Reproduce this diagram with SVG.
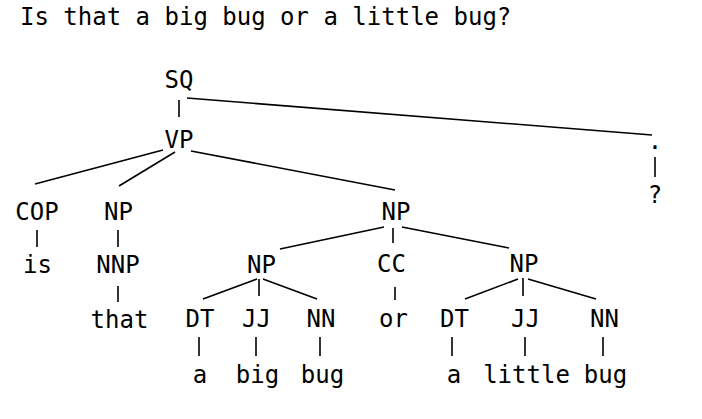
<svg xmlns="http://www.w3.org/2000/svg" width="702" height="419" viewBox="0 0 702 419">
<style>
text{font-family:"DejaVu Sans Mono","Liberation Mono",monospace;font-size:24px;fill:#000;text-anchor:middle}
.t{text-anchor:start}
#edges line{stroke:#000;stroke-width:1.6}
</style>
<rect width="702" height="419" fill="#fff"/>
<text class="t" x="20" y="25">Is that a big bug or a little bug?</text>
<g id="edges">
<line x1="179" y1="100" x2="179" y2="117"/>
<line x1="187" y1="98" x2="652" y2="135"/>
<line x1="655" y1="157" x2="655" y2="177"/>
<line x1="163" y1="150" x2="35" y2="184"/>
<line x1="175" y1="152" x2="119" y2="186"/>
<line x1="191" y1="151" x2="395" y2="190"/>
<line x1="37" y1="230" x2="37" y2="247"/>
<line x1="118" y1="230" x2="118" y2="247"/>
<line x1="118" y1="286" x2="118" y2="302"/>
<line x1="384" y1="227" x2="280" y2="249"/>
<line x1="393" y1="228" x2="393" y2="243"/>
<line x1="402" y1="227" x2="509" y2="248"/>
<line x1="395" y1="287" x2="395" y2="300"/>
<line x1="257" y1="279" x2="203" y2="299"/>
<line x1="259" y1="279" x2="259" y2="296"/>
<line x1="263" y1="279" x2="317" y2="299"/>
<line x1="518" y1="279" x2="465" y2="299"/>
<line x1="523" y1="278" x2="523" y2="296"/>
<line x1="528" y1="279" x2="596" y2="299"/>
<line x1="199" y1="337" x2="199" y2="356"/>
<line x1="256" y1="337" x2="256" y2="356"/>
<line x1="320" y1="337" x2="320" y2="356"/>
<line x1="452" y1="337" x2="452" y2="356"/>
<line x1="525" y1="337" x2="525" y2="356"/>
<line x1="603" y1="337" x2="603" y2="356"/>
</g>
<g id="n-sq"><text x="179" y="88">SQ</text></g>
<g id="n-vp"><text x="179" y="148">VP</text></g>
<g id="n-period"><text x="655" y="149">.</text></g>
<g id="n-q"><text x="655" y="203">?</text></g>
<g id="n-cop"><text x="37" y="220">COP</text></g>
<g id="n-np1"><text x="118.5" y="220">NP</text></g>
<g id="n-np2"><text x="396" y="220">NP</text></g>
<g id="n-is"><text x="37.5" y="273">is</text></g>
<g id="n-nnp"><text x="118" y="273">NNP</text></g>
<g id="n-np3"><text x="261.5" y="273">NP</text></g>
<g id="n-cc"><text x="391.5" y="272">CC</text></g>
<g id="n-np4"><text x="524" y="272">NP</text></g>
<g id="n-that"><text x="119.5" y="328">that</text></g>
<g id="n-dt1"><text x="200" y="327">DT</text></g>
<g id="n-jj1"><text x="256.5" y="327">JJ</text></g>
<g id="n-nn1"><text x="321" y="327">NN</text></g>
<g id="n-or"><text x="393.5" y="327">or</text></g>
<g id="n-dt2"><text x="454.5" y="327">DT</text></g>
<g id="n-jj2"><text x="525.5" y="327">JJ</text></g>
<g id="n-nn2"><text x="604.5" y="327">NN</text></g>
<g id="n-a1"><text x="200" y="383">a</text></g>
<g id="n-big"><text x="257.5" y="383">big</text></g>
<g id="n-bug1"><text x="322.5" y="383">bug</text></g>
<g id="n-a2"><text x="454" y="383">a</text></g>
<g id="n-little"><text x="526.5" y="383">little</text></g>
<g id="n-bug2"><text x="605.5" y="383">bug</text></g>
</svg>
